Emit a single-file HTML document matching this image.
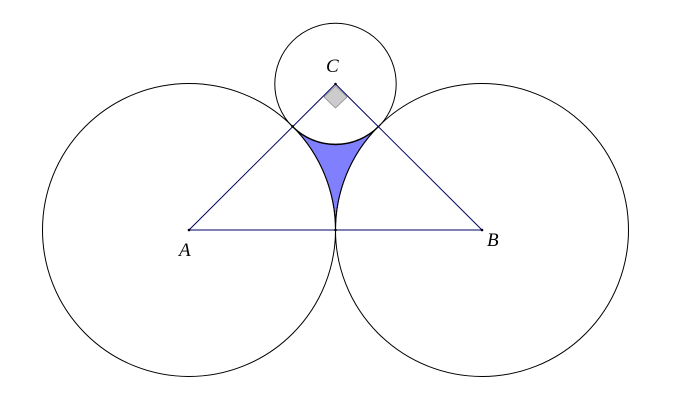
<!DOCTYPE html>
<html><head><meta charset="utf-8"><style>html,body{margin:0;padding:0;background:#fff}svg{display:block}text{font-family:"Liberation Serif",serif;font-style:italic;font-size:19px}</style></head>
<body>
<svg width="689" height="406" viewBox="0 0 689 406" xmlns="http://www.w3.org/2000/svg">
<rect width="689" height="406" fill="#fff"/>
<path d="M292.6,126.4 A146.5,146.5 0 0 1 335.5,230 A146.5,146.5 0 0 1 378.4,126.4 A60.7,60.7 0 0 1 292.6,126.4 Z" fill="#8080ff" stroke="#000" stroke-width="1"/>
<circle cx="189" cy="230" r="146.5" fill="none" stroke="#000" stroke-width="1"/>
<circle cx="482" cy="230" r="146.5" fill="none" stroke="#000" stroke-width="1"/>
<circle cx="335.5" cy="84" r="60.7" fill="none" stroke="#000" stroke-width="1"/>
<polygon points="335.5,86 347,97 335.5,108 324,97" fill="#cccccc" stroke="#888" stroke-width="0.8"/>
<polyline points="189,230 335.5,84 482,230 189,230" fill="none" stroke="#000066" stroke-width="1"/>
<circle cx="189" cy="230" r="1.3" fill="#000"/>
<circle cx="482" cy="230" r="1.3" fill="#000"/>
<circle cx="335.5" cy="84" r="1.3" fill="#000"/>
<circle cx="292.6" cy="126.4" r="1.3" fill="#000"/>
<circle cx="335.5" cy="230" r="1.3" fill="#000"/>
<text x="326" y="72">C</text>
<text x="179" y="256">A</text>
<text x="487" y="246">B</text>
</svg>
</body></html>
